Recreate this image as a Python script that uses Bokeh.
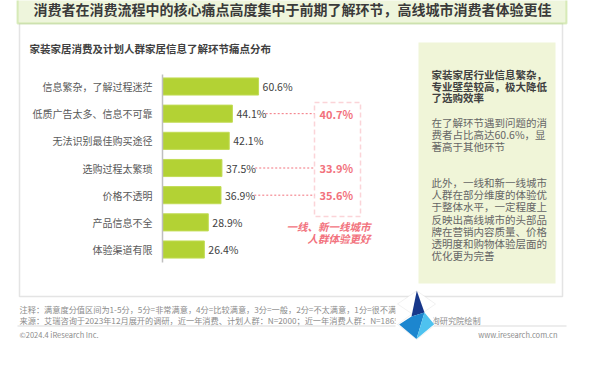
from bokeh.plotting import figure
from bokeh.models import Range1d, Label, BoxAnnotation, PolyAnnotation, ColumnDataSource
from bokeh.core.properties import value
from bokeh.embed import file_html
from bokeh.resources import INLINE

# ---------------- data ----------------
title_text = "消费者在消费流程中的核心痛点高度集中于前期了解环节，高线城市消费者体验更佳"
subtitle_text = "家装家居消费及计划人群家居信息了解环节痛点分布"
categories = ["信息繁杂，了解过程迷茫", "低质广告太多、信息不可靠", "无法识别最佳购买途径",
              "选购过程太繁琐", "价格不透明", "产品信息不全", "体验渠道有限"]
overall_pct = [60.6, 44.1, 42.1, 37.5, 36.9, 28.9, 26.4]
tier1_categories = ["低质广告太多、信息不可靠", "选购过程太繁琐", "价格不透明"]
tier1_pct = [40.7, 33.9, 35.6]
tier1_note = ["一线、新一线城市", "人群体验更好"]
panel_head = ["家装家居行业信息繁杂，", "专业壁垒较高，极大降低", "了选购效率"]
panel_p1 = ["在了解环节遇到问题的消", "费者占比高达60.6%，显", "著高于其他环节"]
panel_p2 = ["此外，一线和新一线城市", "人群在部分维度的体验优", "于整体水平，一定程度上",
            "反映出高线城市的头部品", "牌在营销内容质量、价格", "透明度和购物体验层面的",
            "优化更为完善"]
note_lines = ["注释：满意度分值区间为1-5分，5分=非常满意，4分=比较满意，3分=一般，2分=不太满意，1分=很不满意",
              "来源：艾瑞咨询于2023年12月展开的调研，近一年消费、计划人群：N=2000；近一年消费人群：N=1865。艾瑞咨询研究院绘制"]
copyright_text = "©2024.4 iResearch Inc."
site_text = "www.iresearch.com.cn"

# ---------------- layout ----------------
W, H = 584, 353
PX = 1.585          # pixels per percent
BASE_X = 170        # window x of bar base
ROW0_Y = 94         # window y of first row
ROW_STEP = 27.17
CJK = "Noto Sans CJK SC"
PINK = "#f2727d"

x_start = -(BASE_X - 8) / PX
x_end = (8 + W - BASE_X) / PX
y_top = -(ROW0_Y - 8) / ROW_STEP
y_bottom = y_top + H / ROW_STEP

p = figure(width=W, height=H, x_range=Range1d(x_start, x_end), y_range=Range1d(y_bottom, y_top),
           output_backend="svg", toolbar_location=None, min_border=0, title=None,
           x_axis_location=None, y_axis_location=None)
p.grid.visible = False
p.outline_line_color = None
p.background_fill_color = "white"
p.border_fill_color = "white"


def wx(X):  # window x -> data x
    return (X - BASE_X) / PX


def lab(text, X, Y, size, color, style="normal", align="left"):
    p.add_layout(Label(x=X - 8, y=361 - Y, x_units="screen", y_units="screen", text=text,
                       text_font=CJK, text_font_size=f"{size}px", text_color=color,
                       text_font_style=style, text_align=align, text_baseline="middle"))


def box(L, T, R, B, **kw):
    p.add_layout(BoxAnnotation(left=L - 8, right=R - 8, top=361 - T, bottom=361 - B,
                               left_units="screen", right_units="screen",
                               top_units="screen", bottom_units="screen", **kw))


def poly(pts, **kw):
    p.add_layout(PolyAnnotation(xs=[x - 8 for x, _ in pts], ys=[361 - y for _, y in pts],
                                xs_units="screen", ys_units="screen", **kw))


# frames
box(27, 31, 570, 304, fill_color=None, line_color="#a6a6a6", line_width=1.5)
box(25, 1, 574, 31, fill_color="#eef5dc", fill_alpha=1, line_color="#8dc63f", line_width=2)
box(426, 50, 563, 291, fill_color="#f0f5d8", fill_alpha=1, line_color=None)

lab(title_text, 300, 16, 14, "#3a3a3a", "bold", "center")
lab(subtitle_text, 37, 56, 10.5, "#404040", "bold")

# ---------------- bars ----------------
idx = list(range(len(categories)))
src = ColumnDataSource(dict(idx=idx, cat=categories, val=overall_pct,
                            lbl=[f"{v}%" for v in overall_pct]))
p.hbar(y="idx", left=0, right="val", height=0.63, source=src, fill_color="#b3d234",
       line_color="#c2dc55", line_width=1)
p.segment(x0=[0], y0=[-0.44], x1=[0], y1=[len(categories) - 1 + 0.48], line_color="#bfbfbf",
          line_width=1.5)
p.text(x=0, y="idx", text="cat", source=src, x_offset=-10, text_align="right",
       text_baseline="middle", text_font=value(CJK), text_font_size="10px", text_color="#595959")
p.text(x="val", y="idx", text="lbl", source=src, x_offset=4, text_align="left",
       text_baseline="middle", text_font=value(CJK), text_font_size="10.5px", text_color="#404040")

# tier-1 city comparison
t_idx = [categories.index(c) for c in tier1_categories]
t_over = [overall_pct[i] for i in t_idx]
BOX_L, BOX_R, BOX_T, BOX_B = 322, 368, 110, 224
p.segment(x0=[v + 21 for v in t_over], y0=t_idx, x1=[wx(BOX_L)] * len(t_idx), y1=t_idx,
          line_color=PINK, line_width=1, line_dash="2 2")
box(BOX_L, BOX_T, BOX_R, BOX_B, fill_color=None, line_color=PINK, line_width=1.5, line_dash="5 3")
p.text(x=[wx(BOX_L + 5)] * len(t_idx), y=t_idx, text=[f"{v}%" for v in tier1_pct],
       text_align="left", text_baseline="middle", text_font=value(CJK), text_font_size="11px",
       text_font_style="bold", text_color=PINK)
lab(tier1_note[0], 378, 234, 10.5, PINK, "bold italic", "right")
lab(tier1_note[1], 378, 246, 10.5, PINK, "bold italic", "right")

# ---------------- right panel ----------------
for i, t in enumerate(panel_head):
    lab(t, 439, 82 + 11.7 * i, 10.5, "#404040", "bold")
for i, t in enumerate(panel_p1):
    lab(t, 439, 130 + 12 * i, 10.5, "#666666")
for i, t in enumerate(panel_p2):
    lab(t, 439, 190 + 12.2 * i, 10.5, "#666666")

# ---------------- footer ----------------
lab(note_lines[0], 27, 316, 8.2, "#8c8c8c")
lab(note_lines[1], 27, 327, 8.2, "#8c8c8c")
box(25, 333, 574, 334, fill_color="#dcdcdc", fill_alpha=1, line_color=None)
lab(copyright_text, 27, 342, 7.5, "#8c8c8c")
lab(site_text, 565, 342, 7.5, "#8c8c8c", "normal", "right")

# logo
box(403, 306, 441, 335, fill_color="white", fill_alpha=1, line_color=None)
poly([(424.3, 298.3), (443, 311.5), (424.3, 324.5), (405, 311.5)], fill_color="white",
     fill_alpha=1, line_color="#d0d0d0", line_width=1)
poly([(424.3, 318), (443, 332), (424.3, 347), (405, 332)], fill_color="white",
     fill_alpha=1, line_color="#d0d0d0", line_width=1)
poly([(424.3, 298.3), (432, 320), (419, 324)], fill_color="#17378a", fill_alpha=1, line_color=None)
poly([(419, 324), (432, 320), (424, 346.5), (406.7, 332)], fill_color="#1c86cf", fill_alpha=1,
     line_color=None)
poly([(432, 320), (441.7, 331.7), (424, 346.5)], fill_color="#4ec2ef", fill_alpha=1, line_color=None)

open("out.html", "w").write(file_html(p, INLINE))
